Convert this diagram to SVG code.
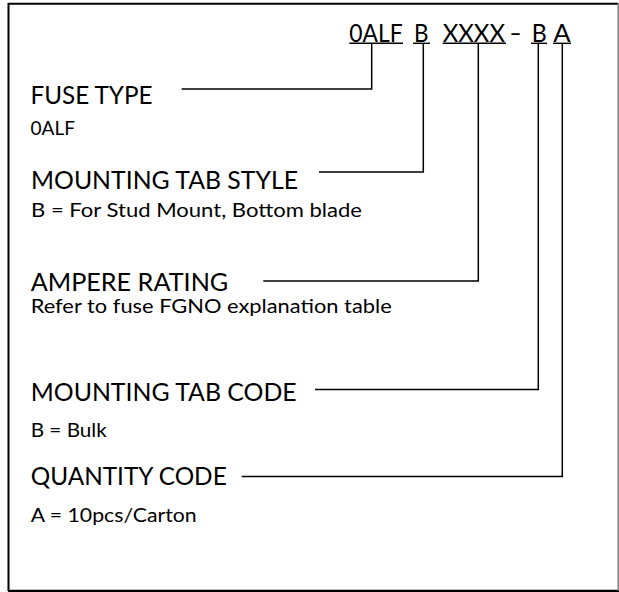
<svg xmlns="http://www.w3.org/2000/svg" width="619" height="592" viewBox="0 0 619 592">
<style>
text{font-family:Lato,"Open Sans","Liberation Sans",sans-serif;fill:#000}
.h{font-size:24.5px}
.s{font-size:19.5px}
.c{font-size:24.5px}
.ln{stroke:#000;stroke-width:1.5;fill:none}
.ul{stroke:#000;stroke-width:1.4}
</style>
<rect width="619" height="592" fill="#fff"/>
<g id="frame">
<line x1="8.5" y1="3.7" x2="618" y2="3.7" stroke="#000" stroke-width="2"/>
<line x1="8.5" y1="3" x2="8.5" y2="591" stroke="#000" stroke-width="2"/>
<line x1="8" y1="590.8" x2="619" y2="590.8" stroke="#000" stroke-width="2.2"/>
<line x1="618.2" y1="3" x2="618.2" y2="591" stroke="#777" stroke-width="1.4"/>
</g>
<g id="code">
<text class="c" x="349.3" y="41.5" textLength="53.4" lengthAdjust="spacingAndGlyphs">0ALF</text>
<text class="c" x="414" y="41.5" textLength="14.5" lengthAdjust="spacingAndGlyphs">B</text>
<text class="c" x="442.7" y="41.5" textLength="62.3" lengthAdjust="spacingAndGlyphs">XXXX</text>
<text class="c" x="509.5" y="41.5" textLength="12" lengthAdjust="spacingAndGlyphs">–</text>
<text class="c" x="531.7" y="41.5" textLength="15" lengthAdjust="spacingAndGlyphs">B</text>
<text class="c" x="553.3" y="41.5" textLength="17.4" lengthAdjust="spacingAndGlyphs">A</text>
<line class="ul" x1="349.3" y1="43.3" x2="403" y2="43.3"/>
<line class="ul" x1="413" y1="43.3" x2="430" y2="43.3"/>
<line class="ul" x1="442.7" y1="43.3" x2="506" y2="43.3"/>
<line class="ul" x1="531" y1="43.3" x2="547" y2="43.3"/>
<line class="ul" x1="553" y1="43.3" x2="571" y2="43.3"/>
</g>
<g id="fuse-type">
<text class="h" x="30.5" y="104" textLength="122" lengthAdjust="spacingAndGlyphs">FUSE TYPE</text>
<text class="s" x="30.5" y="135" textLength="44.5" lengthAdjust="spacingAndGlyphs">0ALF</text>
</g>
<g id="mounting-tab-style">
<text class="h" x="31" y="189" textLength="267" lengthAdjust="spacingAndGlyphs">MOUNTING TAB STYLE</text>
<text class="s" x="31" y="216.5" textLength="331" lengthAdjust="spacingAndGlyphs">B = For Stud Mount, Bottom blade</text>
</g>
<g id="ampere-rating">
<text class="h" x="30.7" y="291" textLength="197.6" lengthAdjust="spacingAndGlyphs">AMPERE RATING</text>
<text class="s" x="30.7" y="313" textLength="361" lengthAdjust="spacingAndGlyphs">Refer to fuse FGNO explanation table</text>
</g>
<g id="mounting-tab-code">
<text class="h" x="30.7" y="401" textLength="266" lengthAdjust="spacingAndGlyphs">MOUNTING TAB CODE</text>
<text class="s" x="30.7" y="437" textLength="76" lengthAdjust="spacingAndGlyphs">B = Bulk</text>
</g>
<g id="quantity-code">
<text class="h" x="30.7" y="485" textLength="196" lengthAdjust="spacingAndGlyphs">QUANTITY CODE</text>
<text class="s" x="30.7" y="522" textLength="166" lengthAdjust="spacingAndGlyphs">A = 10pcs/Carton</text>
</g>
<g id="connectors">
<polyline class="ln" points="181.7,89 371.7,89 371.7,43.5"/>
<polyline class="ln" points="319,172 423.3,172 423.3,43.5"/>
<polyline class="ln" points="263.3,281 478.3,281 478.3,43.5"/>
<polyline class="ln" points="315,389.5 538.3,389.5 538.3,43.5"/>
<polyline class="ln" points="241.7,476.5 562.3,476.5 562.3,43.5"/>
</g>
</svg>
